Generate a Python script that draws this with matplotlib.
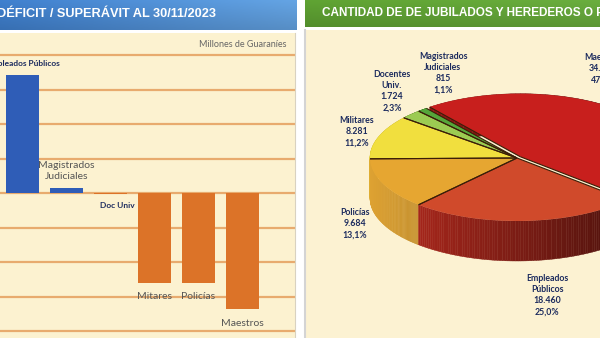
import numpy as np
import matplotlib.pyplot as plt
from matplotlib.colors import to_rgb
from matplotlib.collections import PolyCollection

W, H = 600, 338

# left chart: deficit / surplus at 30/11/2023 (in gridline steps, millones de guaranies)
bar_names = ['Empleados Públicos', 'Magistrados\nJudiciales', 'Doc Univ',
             'Mitares', 'Policías', 'Maestros']
bar_values = [3.42, 0.14, -0.03, -2.61, -2.61, -3.36]

# right chart: jubilados y herederos
pie_names = ['Maestros', 'Empleados\nPúblicos', 'Policías', 'Militares',
             'Docentes\nUniv.', 'Magistrados\nJudiciales']
pie_counts = [34876, 18460, 9684, 8281, 1724, 815]

LABEL_FONT = ['Lato', 'DejaVu Sans']
HEAD_FONT = ['Liberation Sans', 'DejaVu Sans']
NAVY = '#1c2b5e'

fig = plt.figure(figsize=(W / 100, H / 100), dpi=100, facecolor='white')


def px_axes(x0, y0, w, h):
    # axes placed with pixel coords measured from top-left
    return fig.add_axes([x0 / W, 1 - (y0 + h) / H, w / W, h / H])


def header(ax, c_left, c_right, text, tx, size):
    grad = np.linspace(0, 1, 256)
    c1 = np.array(to_rgb(c_left))
    c2 = np.array(to_rgb(c_right))
    img = c1[None, :] * (1 - grad[:, None]) + c2[None, :] * grad[:, None]
    shade = np.linspace(1.06, 0.92, 20)[:, None, None]
    img = np.clip(img[None, :, :] * shade, 0, 1)
    ax.imshow(img, aspect='auto', extent=(0, 1, 0, 1))
    ax.set_xlim(0, 1)
    ax.set_ylim(0, 1)
    ax.axis('off')
    ax.text(tx, 0.52, text, color='white', fontsize=size, fontweight='bold',
            family=HEAD_FONT, va='center', ha='left')


# ---------------- left panel ----------------
hax = px_axes(0, 0, 297, 30)
header(hax, '#3c79c3', '#5f9bd7', 'DÉFICIT / SUPERÁVIT AL 30/11/2023', -0.01, 9.2)

ax = px_axes(0, 33, 295, 305)
ax.set_facecolor('#fcf2d0')
x = np.arange(len(bar_values))
ax.set_xlim(-22.5 / 44, (295 - 22.5) / 44)
ax.set_ylim(-(338 - 193) / 34.5, (193 - 33) / 34.5)
for g in range(-4, 5):
    ax.axhline(g, color='#e8ab6e', lw=1.6, zorder=1)
colors = ['#2f5db7' if v > 0 else '#dc7328' for v in bar_values]
ax.bar(x, bar_values, width=0.77, color=colors, zorder=3)
for s in ax.spines.values():
    s.set_visible(False)
ax.spines['right'].set_visible(True)
ax.spines['right'].set_color('#d9d2c0')
ax.set_xticks([])
ax.set_yticks([])

ax.text(6.0, 4.29, 'Millones de Guaraníes', ha='right', va='center',
        fontsize=6.5, color='#666666', family=LABEL_FONT)
ax.text(0, 3.74, bar_names[0], ha='center', va='center', fontsize=6,
        fontweight='bold', color=NAVY, family=LABEL_FONT, zorder=4)
ax.text(1, 0.64, bar_names[1], ha='center', va='center', fontsize=7.5,
        color='#555555', family=LABEL_FONT, linespacing=1.35, zorder=4)
ax.text(1.77, -0.35, bar_names[2], ha='left', va='center', fontsize=6,
        fontweight='bold', color=NAVY, family=LABEL_FONT, zorder=2)
for i, yy in [(3, -3.01), (4, -3.01), (5, -3.77)]:
    ax.text(i, yy, bar_names[i], ha='center', va='center', fontsize=7.5,
            color='#555555', family=LABEL_FONT, zorder=4)

# ---------------- right panel ----------------
hax2 = px_axes(305, 0, 295, 27)
header(hax2, '#5a9a30', '#64a43a',
       'CANTIDAD DE DE JUBILADOS Y HEREDEROS O PENSIONADOS', 0.058, 8.5)

pax = px_axes(305, 30, 295, 308)
pax.set_facecolor('#fcf2d2')

top_colors = ['#c81f1d', '#d04a2b', '#e6a631', '#f1df3e', '#9ccb52', '#55a63a']
side_colors = ['#a81a16', '#b82a1e', '#dea232', '#e0cc36', '#86b444', '#46922e']
explode = [0.03, 0, 0, 0, 0, 0]
start = 128
depth = 40 / 63

total = sum(pie_counts)
fracs = np.array(pie_counts) / total
bounds = start - 360 * np.concatenate([[0], np.cumsum(fracs)])

# side wall of the 3d pie, built from thin strips with shading to the right
segs = []
for i in range(len(fracs)):
    a_hi, a_lo = bounds[i], bounds[i + 1]
    mid = np.radians((a_hi + a_lo) / 2)
    ox, oy = explode[i] * np.cos(mid), explode[i] * np.sin(mid)
    th = np.radians(np.linspace(a_lo, a_hi, 90))
    base = np.array(to_rgb(side_colors[i]))
    for t1, t2 in zip(th[:-1], th[1:]):
        x1, y1 = ox + np.cos(t1), oy + np.sin(t1)
        x2, y2 = ox + np.cos(t2), oy + np.sin(t2)
        shade = 1.0 - 0.33 * (np.cos((t1 + t2) / 2) + 1)
        segs.append((-(y1 + y2) / 2,
                     [(x1, y1), (x2, y2), (x2, y2 - depth), (x1, y1 - depth)],
                     np.clip(base * shade, 0, 1)))
segs.sort(key=lambda s: -s[0], reverse=True)
pax.add_collection(PolyCollection([s[1] for s in segs],
                                  facecolors=[s[2] for s in segs],
                                  edgecolors=[s[2] for s in segs],
                                  linewidths=0.3, zorder=1))

wedges, _ = pax.pie(pie_counts, colors=top_colors, startangle=start,
                    counterclock=False, explode=explode, center=(0, 0),
                    wedgeprops=dict(linewidth=0))
for w in wedges:
    w.set_zorder(2)
# dark radial edges between slices
for i in range(len(fracs)):
    mid = np.radians((bounds[i] + bounds[i + 1]) / 2)
    ox, oy = explode[i] * np.cos(mid), explode[i] * np.sin(mid)
    for b in (bounds[i], bounds[i + 1]):
        t = np.radians(b)
        pax.plot([ox, ox + np.cos(t)], [oy, oy + np.sin(t)],
                 color='#3b1e08', lw=0.8, zorder=3, solid_capstyle='butt')

pax.set_aspect('auto')
pax.set_xlim(-212 / 147, 83 / 147)
pax.set_ylim(-(338 - 158) / 63, (158 - 30) / 63)
pax.set_frame_on(True)
for s in pax.spines.values():
    s.set_visible(False)
pax.spines['left'].set_visible(True)
pax.spines['left'].set_color('#d4d4d4')
pax.spines['left'].set_linewidth(1.5)

# label anchor (pixel x centre, pixel y top)
label_px = [(603, 53), (547, 274), (355, 208), (357, 116), (392, 70), (443, 52)]
for name, c, (xp, yp) in zip(pie_names, pie_counts, label_px):
    pct = f'{100 * c / total:.1f}'.replace('.', ',') + '%'
    num = f'{c:,}'.replace(',', '.')
    pax.text((xp - 517) / 147, (158 - yp) / 63, f'{name}\n{num}\n{pct}',
             ha='center', va='top', fontsize=6.3, fontweight='bold',
             color=NAVY, family=LABEL_FONT, linespacing=1.3, zorder=5)

fig.savefig('out.png', dpi=100, facecolor=fig.get_facecolor())
